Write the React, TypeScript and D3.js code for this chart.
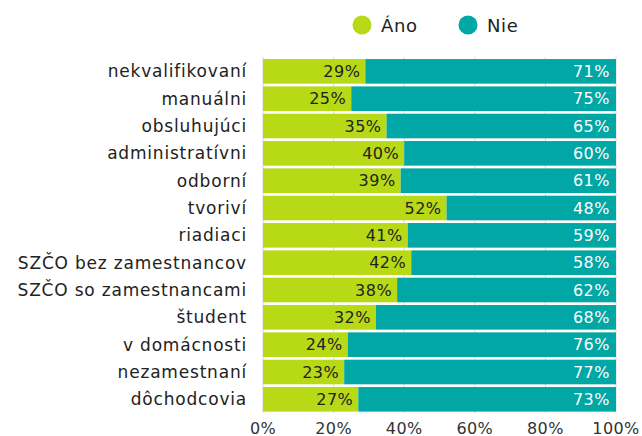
import React from "react";
import * as d3 from "d3";

const categories = [
  "nekvalifikovaní",
  "manuálni",
  "obsluhujúci",
  "administratívni",
  "odborní",
  "tvoriví",
  "riadiaci",
  "SZČO bez zamestnancov",
  "SZČO so zamestnancami",
  "študent",
  "v domácnosti",
  "nezamestnaní",
  "dôchodcovia",
];
const ano = [29, 25, 35, 40, 39, 52, 41, 42, 38, 32, 24, 23, 27];
const nie = [71, 75, 65, 60, 61, 48, 59, 58, 62, 68, 76, 77, 73];
const ticks = [0, 20, 40, 60, 80, 100];
const seriesNames = ["Áno", "Nie"];
const colors = ["#b8d916", "#00a7a5"];

const W = 642;
const H = 436;
const FONT = "'DejaVu Sans', sans-serif";

export default function App() {
  const x = d3.scaleLinear().domain([0, 100]).range([263, 616]);
  const y = d3
    .scaleBand<string>()
    .domain(categories)
    .range([57.7, 413])
    .paddingInner(0.1)
    .paddingOuter(0.05);
  const bw = y.bandwidth();
  return (
    <svg
      width={W}
      height={H}
      style={{ position: "absolute", left: 0, top: 0 }}
      fontFamily={FONT}
    >
      <rect width={W} height={H} fill="#fff" />
      {ticks.map((t) => (
        <line
          key={t}
          x1={x(t)}
          x2={x(t)}
          y1={57}
          y2={413}
          stroke="#d9d9d9"
          strokeWidth={1}
        />
      ))}
      {categories.map((c, i) => {
        const y0 = y(c)!;
        const cy = y0 + bw / 2;
        return (
          <g key={c}>
            <rect x={x(0)} y={y0} width={x(ano[i]) - x(0)} height={bw} fill={colors[0]} />
            <rect
              x={x(ano[i])}
              y={y0}
              width={x(ano[i] + nie[i]) - x(ano[i])}
              height={bw}
              fill={colors[1]}
            />
            <text
              x={247}
              y={cy}
              textAnchor="end"
              dominantBaseline="central"
              fontSize={17}
              letterSpacing={0.8}
              fill="#222"
            >
              {c}
            </text>
            <text
              x={x(ano[i]) - 5}
              y={cy}
              textAnchor="end"
              dominantBaseline="central"
              fontSize={16}
              letterSpacing={0.5}
              fill="#222"
            >
              {ano[i]}%
            </text>
            <text
              x={x(ano[i] + nie[i]) - 6}
              y={cy}
              textAnchor="end"
              dominantBaseline="central"
              fontSize={16}
              letterSpacing={0.5}
              fill="#fff"
            >
              {nie[i]}%
            </text>
          </g>
        );
      })}
      {ticks.map((t) => (
        <text
          key={t}
          x={x(t)}
          y={428}
          textAnchor="middle"
          dominantBaseline="central"
          fontSize={16}
          letterSpacing={0.4}
          fill="#333"
        >
          {t}%
        </text>
      ))}
      {seriesNames.map((s, i) => {
        const cx = [362, 468][i];
        return (
          <g key={s}>
            <circle cx={cx} cy={25} r={9.5} fill={colors[i]} />
            <text
              x={cx + 19}
              y={25}
              dominantBaseline="central"
              fontSize={18}
              letterSpacing={0.6}
              fill="#222"
            >
              {s}
            </text>
          </g>
        );
      })}
    </svg>
  );
}
